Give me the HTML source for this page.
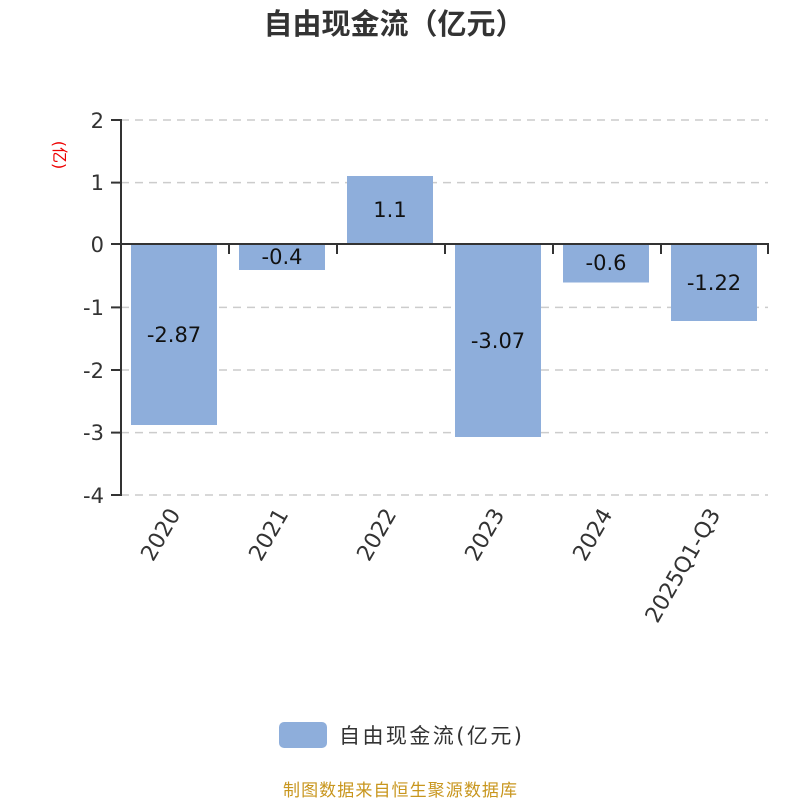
<!DOCTYPE html>
<html><head><meta charset="utf-8"><style>
html,body{margin:0;padding:0;background:#fff;}
svg{display:block;font-family:"DejaVu Sans","Noto Sans CJK SC",sans-serif;}
</style></head><body>
<svg width="800" height="800" viewBox="0 0 800 800">
<text x="394" y="34" text-anchor="middle" font-size="29" font-weight="bold" fill="#333" font-family="Liberation Sans,Noto Sans CJK SC,sans-serif">自由现金流（亿元）</text>
<text transform="translate(54,155) rotate(90)" text-anchor="middle" font-size="16" fill="#e00">(亿)</text>
<g stroke="#ccc" stroke-dasharray="8,6" stroke-width="1.5">
<line x1="121" y1="120" x2="768" y2="120"/>
<line x1="121" y1="182.6" x2="768" y2="182.6"/>
<line x1="121" y1="307.4" x2="768" y2="307.4"/>
<line x1="121" y1="370" x2="768" y2="370"/>
<line x1="121" y1="432.6" x2="768" y2="432.6"/>
<line x1="121" y1="495" x2="768" y2="495"/>
</g>
<g fill="#8eaedb">
<rect x="131" y="244" width="86" height="181"/>
<rect x="239" y="244" width="86" height="26"/>
<rect x="347" y="176" width="86" height="68"/>
<rect x="455" y="244" width="86" height="193"/>
<rect x="563" y="244" width="86" height="38.5"/>
<rect x="671" y="244" width="86" height="77"/>
</g>
<g stroke="#333" stroke-width="2">
<line x1="121" y1="119" x2="121" y2="496"/>
<line x1="111" y1="120" x2="121" y2="120"/>
<line x1="111" y1="182.6" x2="121" y2="182.6"/>
<line x1="111" y1="244" x2="121" y2="244"/>
<line x1="111" y1="307.4" x2="121" y2="307.4"/>
<line x1="111" y1="370" x2="121" y2="370"/>
<line x1="111" y1="432.6" x2="121" y2="432.6"/>
<line x1="111" y1="495" x2="121" y2="495"/>
<line x1="121" y1="244" x2="769" y2="244"/>
<line x1="229" y1="244" x2="229" y2="254"/>
<line x1="337" y1="244" x2="337" y2="254"/>
<line x1="445" y1="244" x2="445" y2="254"/>
<line x1="553" y1="244" x2="553" y2="254"/>
<line x1="661" y1="244" x2="661" y2="254"/>
<line x1="768" y1="244" x2="768" y2="254"/>
</g>
<g font-size="21" fill="#333" text-anchor="end">
<text x="104" y="128">2</text>
<text x="104" y="190">1</text>
<text x="104" y="252">0</text>
<text x="104" y="315">-1</text>
<text x="104" y="378">-2</text>
<text x="104" y="440">-3</text>
<text x="104" y="503">-4</text>
</g>
<g font-size="21" fill="#111" text-anchor="middle">
<text x="174" y="342">-2.87</text>
<text x="282" y="264">-0.4</text>
<text x="390" y="217">1.1</text>
<text x="498" y="348">-3.07</text>
<text x="606" y="270">-0.6</text>
<text x="714" y="290">-1.22</text>
</g>
<g font-size="22" fill="#333" text-anchor="end">
<text transform="translate(181,514) rotate(-60)">2020</text>
<text transform="translate(289,514) rotate(-60)">2021</text>
<text transform="translate(397,514) rotate(-60)">2022</text>
<text transform="translate(505,514) rotate(-60)">2023</text>
<text transform="translate(613,514) rotate(-60)">2024</text>
<text transform="translate(721,514) rotate(-60)">2025Q1-Q3</text>
</g>
<rect x="279" y="722" width="48" height="26" rx="5" fill="#8eaedb"/>
<text x="339" y="743" font-size="21" fill="#333" textLength="183">自由现金流(亿元)</text>
<text x="400" y="796" text-anchor="middle" font-size="17" fill="#c8961e" textLength="234">制图数据来自恒生聚源数据库</text>
</svg>
</body></html>
